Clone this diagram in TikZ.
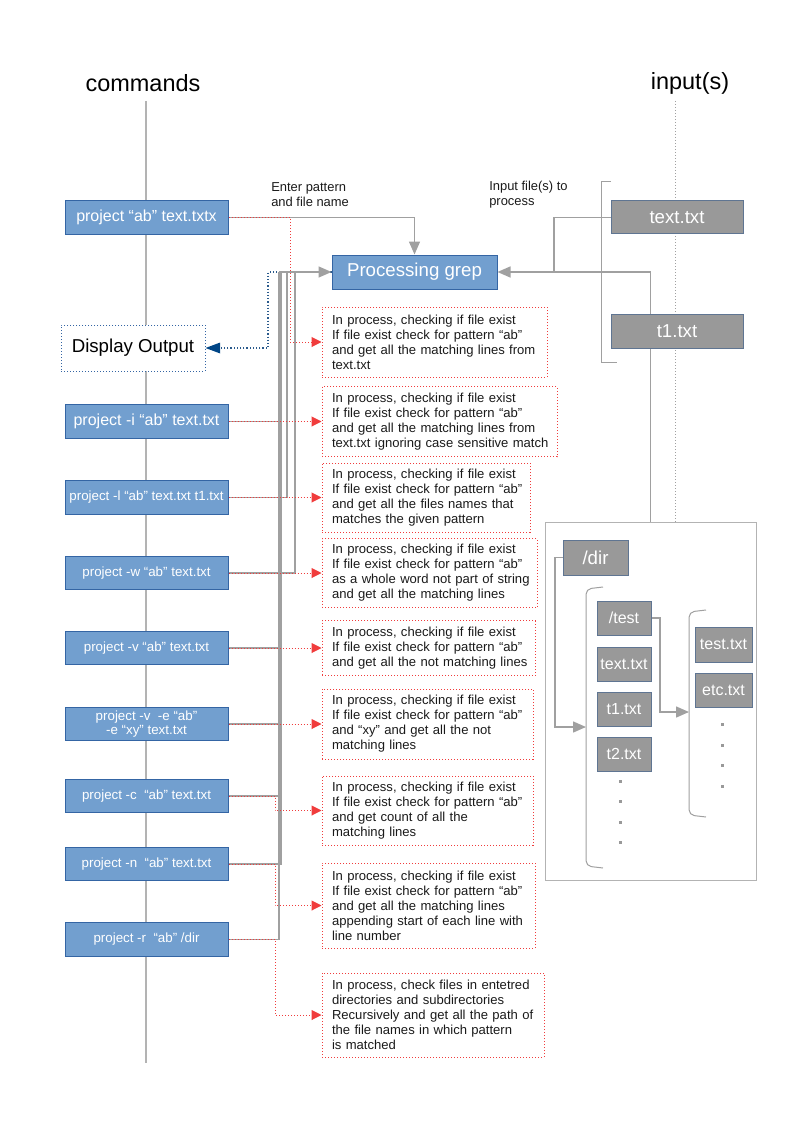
\documentclass[tikz,border=0pt]{standalone}
\usepackage{fontspec}
\setmainfont{Liberation Sans}
\usetikzlibrary{arrows.meta,backgrounds}
\definecolor{cmdfill}{HTML}{729FCF}
\definecolor{cmdline}{HTML}{3465A4}
\definecolor{grayfill}{HTML}{999999}
\definecolor{grayline}{HTML}{5F7592}
\definecolor{conn}{HTML}{A0A0A0}
\definecolor{life}{HTML}{B3B3B3}
\definecolor{redc}{HTML}{F03C3C}
\definecolor{bluec}{HTML}{2A5A8C}
\definecolor{bluearrow}{HTML}{004586}
\definecolor{txt}{HTML}{1A1A1A}
\newcommand\dl[1]{\mbox{#1}}
\begin{document}
\begin{tikzpicture}[x=0.75pt,y=-0.75pt,
  cmd/.style={draw=cmdline, fill=cmdfill, text=white, line width=0.75pt,
    minimum width=122.25pt, minimum height=25pt, inner sep=0pt,
    font=\fontsize{10}{11.5}\selectfont, align=center},
  bigcmd/.style={cmd, font=\fontsize{12}{14}\selectfont},
  desc/.style={draw=redc, dash pattern=on 0.75pt off 1.5pt, line width=0.75pt,
    text=txt, inner xsep=7.5pt, inner ysep=0pt, align=left,
    font=\fontsize{9.8}{11.25}\selectfont},
  filebox/.style={draw=grayline, fill=grayfill, text=white, line width=0.75pt,
    inner sep=0pt, font=\fontsize{14}{16}\selectfont},
  smallfile/.style={filebox, minimum width=40.5pt, minimum height=25.5pt,
    font=\fontsize{12}{14}\selectfont},
  gconn/.style={draw=conn, line width=1.1pt},
  garrow/.style={gconn, -{Triangle[length=9.75pt,width=8.25pt]}},
  rconn/.style={draw=redc, line width=0.75pt, dash pattern=on 0.75pt off 1.5pt,
    -{Triangle[length=7.5pt,width=7.5pt]}},
  bconn/.style={draw=bluec, line width=0.9pt, dash pattern=on 0.9pt off 1.5pt,
    -{Triangle[length=11pt,width=8pt,fill=bluearrow,color=bluearrow]}},
  heading/.style={font=\fontsize{17.6}{20}\selectfont, inner sep=0pt},
  note/.style={font=\fontsize{9.7}{11.25}\selectfont, align=left, inner sep=0pt, text=txt},
  bracket/.style={draw=conn, line width=0.75pt},
  dotmark/.style={fill=grayfill}
]
\useasboundingbox (0,0) rectangle (794,1123);

% headings
\node[heading] (hcmd) at (143,83) {commands};
\node[heading] (hin) at (690,83) {input(s)};

% lifeline coordinates
\coordinate (cmdtop) at (146,101);
\coordinate (cmdbot) at (146,1063);
\coordinate (intop) at (675,101);

% notes
\node[note, anchor=west] (n1) at (271,194.5) {Enter pattern\\and file name};
\node[note, anchor=west] (n2) at (489,194.5) {Input file(s) to\\process};

% command boxes
\node[bigcmd] (c1) at (146.5,217.5) {project “ab” text.txtx};
\node[draw=cmdline, fill=white, dash pattern=on 0.75pt off 1.5pt, line width=0.75pt,
  minimum width=108pt, minimum height=34.5pt, inner sep=0pt,
  font=\fontsize{14}{16}\selectfont, text=black] (disp) at (133,348) {Display Output};
\node[bigcmd] (c2) at (146.5,421.5) {project -i “ab” text.txt};
\node[cmd] (c3) at (146.5,497.5) {project -l “ab” text.txt t1.txt};
\node[cmd] (c4) at (146.5,573) {project -w “ab” text.txt};
\node[cmd] (c5) at (146.5,648) {project -v “ab” text.txt};
\node[cmd, font=\fontsize{10}{11}\selectfont] (c6) at (146.5,724) {project -v\ \ -e “ab”\\ -e “xy” text.txt};
\node[cmd] (c7) at (146.5,796) {project -c\ \ “ab” text.txt};
\node[cmd] (c8) at (146.5,864) {project -n\ \ “ab” text.txt};
\node[cmd] (c9) at (146.5,939.5) {project -r\ \ “ab” /dir};

% processing
\node[draw=cmdline, fill=cmdfill, text=white, line width=0.75pt,
  minimum width=123.75pt, minimum height=25.5pt, inner sep=0pt,
  font=\fontsize{14}{16}\selectfont] (proc) at (414.5,272) {Processing grep};

% descriptions
\node[desc, text width=153.75pt, minimum height=52.5pt] (d1) at (434.5,342)
  {\dl{In process, checking if file exist}\\\dl{If file exist check for pattern “ab”}\\\dl{and get all the matching lines from}\\\dl{text.txt}};
\node[desc, text width=161.25pt, minimum height=52.5pt] (d2) at (439.5,421.5)
  {\dl{In process, checking if file exist}\\\dl{If file exist check for pattern “ab”}\\\dl{and get all the matching lines from}\\\dl{text.txt ignoring case sensitive match}};
\node[desc, text width=141pt, minimum height=51.75pt] (d3) at (426,497.5)
  {\dl{In process, checking if file exist}\\\dl{If file exist check for pattern “ab”}\\\dl{and get all the files names that}\\\dl{matches the given pattern}};
\node[desc, text width=146.25pt, minimum height=51.75pt] (d4) at (429.5,573)
  {\dl{In process, checking if file exist}\\\dl{If file exist check for pattern “ab”}\\\dl{as a whole word not part of string}\\\dl{and get all the matching lines}};
\node[desc, text width=144.75pt, minimum height=41.25pt] (d5) at (428.5,648)
  {\dl{In process, checking if file exist}\\\dl{If file exist check for pattern “ab”}\\\dl{and get all the not matching lines}};
\node[desc, text width=143.25pt, minimum height=52.5pt] (d6) at (427.5,724)
  {\dl{In process, checking if file exist}\\\dl{If file exist check for pattern “ab”}\\\dl{and “xy” and get all the not}\\\dl{matching lines}};
\node[desc, text width=143.25pt, minimum height=51.75pt] (d7) at (427.5,810.5)
  {\dl{In process, checking if file exist}\\\dl{If file exist check for pattern “ab”}\\\dl{and get count of all the}\\\dl{matching lines}};
\node[desc, text width=144.75pt, minimum height=63.75pt] (d8) at (428.5,905.5)
  {\dl{In process, checking if file exist}\\\dl{If file exist check for pattern “ab”}\\\dl{and get all the matching lines}\\\dl{appending start of each line with}\\\dl{line number}};
\node[desc, text width=151.5pt, minimum height=63pt] (d9) at (433,1015)
  {\dl{In process, check files in entetred}\\\dl{directories and subdirectories}\\\dl{Recursively and get all the path of}\\\dl{the file names in which pattern}\\\dl{is matched}};

% input files
\node[filebox, minimum width=99pt, minimum height=24.75pt] (tt) at (677,217.5) {text.txt};
\node[filebox, minimum width=99pt, minimum height=25.5pt] (t1) at (677,331) {t1.txt};

% directory box
\node[draw=life, line width=0.75pt, minimum width=158.25pt, minimum height=268.5pt, inner sep=0pt] (big) at (650.5,701) {};
\node[filebox, minimum width=48.75pt, minimum height=26.25pt] (dir) at (595.5,557.5) {/dir};
\node[smallfile] (test) at (624,618) {/test};
\node[smallfile] (text2) at (624,664) {text.txt};
\node[smallfile] (t1b) at (624,709) {t1.txt};
\node[smallfile] (t2) at (624,754) {t2.txt};
\node[smallfile, minimum width=42.75pt, minimum height=26.25pt] (testtxt) at (723.5,644.5) {test.txt};
\node[smallfile, minimum width=42.75pt, minimum height=25.5pt] (etc) at (723.5,690) {etc.txt};

% brackets
\draw[bracket, rounded corners=4pt] (603,587) -- (586,589) -- (586,866) -- (603,868);
\draw[bracket, rounded corners=4pt] (706,610) -- (689,612) -- (689,815) -- (706,817);
\draw[bracket] (611,182) -- (601,182) -- (601,362) -- (617,362);

% dots
\foreach \yy in {781,801,822,842} \fill[dotmark] (618.5,\yy-1.5) rectangle ++(3,3);
\foreach \yy in {724,745,765,786} \fill[dotmark] (720.5,\yy-1.5) rectangle ++(3,3);

\coordinate (lb) at (586,727);
\coordinate (lbk) at (555,727);
\coordinate (rb) at (689,712);
\coordinate (rbk) at (660,712);

\coordinate (j) at (554,272);
\coordinate (g1) at (279,272);
\coordinate (g2) at (281,272);
\coordinate (g3) at (287,272);
\coordinate (g4) at (295,272);
\coordinate (b1) at (268,272);
\coordinate (r1) at (290,342);
\coordinate (r7) at (275,810.5);
\coordinate (r8) at (275,905.5);
\coordinate (r9) at (275,1015);

\begin{pgfonlayer}{background}
  % lifelines
  \draw[draw=life, line width=1.1pt] (cmdtop) -- (cmdbot);
  \draw[draw=conn, line width=0.75pt, dash pattern=on 0.75pt off 1.5pt] (intop) -- (big.north -| intop);
  % blue output
  \draw[bconn] (proc.west) -- (b1) |- (disp.east);
  % gray into processing
  \draw[garrow] (c1.east) -| (proc.north);
  \draw[gconn] (c2.east) -| (g1);
  \draw[gconn] (c3.east) -| (g3);
  \draw[gconn] (c4.east) -| (g4);
  \draw[gconn] (c5.east) -| (g1);
  \draw[gconn] (c6.east) -| (g2);
  \draw[gconn] (c7.east) -| (g1);
  \draw[gconn] (c8.east) -| (g2);
  \draw[gconn] (c9.east) -| (g1);
  \draw[garrow] (g1) -- (proc.west);
  \draw[gconn] (tt.west) -| (j);
  \draw[garrow] (big.north) |- (proc.east);
  % directory arrows
  \draw[garrow] (dir.west) -| (lbk) -- (lb);
  \draw[garrow] (test.east) -| (rbk) -- (rb);
  % red
  \draw[rconn] (c1.east) -| (r1) -- (d1.west);
  \draw[rconn] (c2.east) -- (c2.east -| d2.west);
  \draw[rconn] (c3.east) -- (c3.east -| d3.west);
  \draw[rconn] (c4.east) -- (c4.east -| d4.west);
  \draw[rconn] (c5.east) -- (c5.east -| d5.west);
  \draw[rconn] (c6.east) -- (c6.east -| d6.west);
  \draw[rconn] (c7.east) -| (r7) -- (d7.west);
  \draw[rconn] (c8.east) -| (r8) -- (d8.west);
  \draw[rconn] (c9.east) -| (r9) -- (d9.west);
\end{pgfonlayer}
\end{tikzpicture}
\end{document}
